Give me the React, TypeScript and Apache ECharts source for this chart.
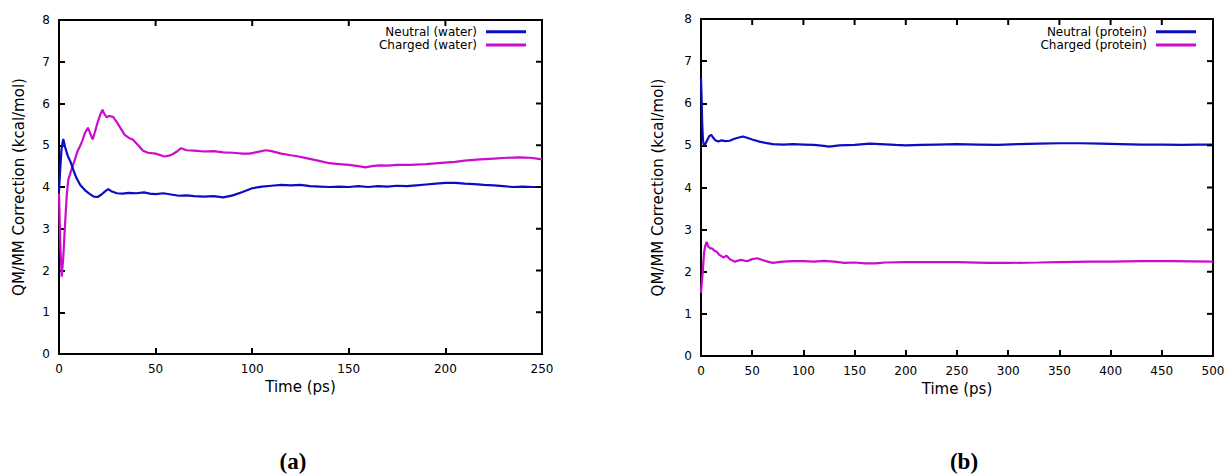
import React, { useEffect, useRef } from "react";
import * as echarts from "echarts";

// Panel (a): water
const waterTicksX = [0, 50, 100, 150, 200, 250];
const neutralWater: [number, number][] = [
  [0, 3.9], [0.6, 4.4], [1.3, 4.9], [2.2, 5.15], [3.2, 4.95], [4.5, 4.75], [6, 4.6], [7.5, 4.4], [9, 4.22],
  [11, 4.05], [13.5, 3.92], [16, 3.83], [18, 3.77], [20, 3.76], [22, 3.82], [24, 3.9], [25.5, 3.95], [27, 3.9],
  [30, 3.85], [33, 3.84], [36, 3.86], [40, 3.85], [44, 3.87], [47, 3.84], [50, 3.83], [54, 3.85], [58, 3.82],
  [62, 3.79], [66, 3.8], [70, 3.78], [75, 3.77], [80, 3.78], [85, 3.75], [90, 3.8], [95, 3.88], [100, 3.97],
  [105, 4.01], [110, 4.03], [115, 4.05], [120, 4.04], [125, 4.05], [130, 4.02], [135, 4.01], [140, 4.0],
  [145, 4.01], [150, 4.0], [155, 4.02], [160, 4.0], [165, 4.02], [170, 4.01], [175, 4.03], [180, 4.02],
  [185, 4.04], [190, 4.06], [195, 4.08], [200, 4.1], [205, 4.1], [210, 4.08], [215, 4.07], [220, 4.05],
  [225, 4.04], [230, 4.02], [235, 4.0], [240, 4.01], [245, 4.0], [250, 4.0],
];
const chargedWater: [number, number][] = [
  [0, 3.85], [0.7, 2.6], [1.4, 1.85], [2.2, 2.3], [3, 3.0], [4, 3.8], [4.8, 4.17], [6, 4.35], [7, 4.5],
  [8.2, 4.65], [9.5, 4.85], [10.8, 4.97], [12, 5.1], [13.5, 5.3], [15, 5.42], [16, 5.3], [17.4, 5.14],
  [18.5, 5.3], [20, 5.55], [21.5, 5.75], [22.5, 5.85], [23.5, 5.75], [24.6, 5.67], [26, 5.7], [28, 5.68],
  [30, 5.55], [32, 5.4], [34, 5.25], [36, 5.18], [38.3, 5.13], [41, 5.0], [43.5, 4.87], [46, 4.82], [50, 4.8],
  [54.6, 4.73], [57, 4.75], [59, 4.79], [61, 4.85], [63.2, 4.93], [66, 4.88], [70, 4.87], [75, 4.85],
  [80, 4.86], [85, 4.83], [90, 4.82], [95, 4.8], [98.5, 4.8], [103, 4.84], [107, 4.88], [110, 4.86],
  [115, 4.8], [120, 4.76], [124, 4.73], [128, 4.69], [134, 4.63], [140, 4.57], [145, 4.55], [150, 4.53],
  [155, 4.5], [158.6, 4.47], [162, 4.5], [166, 4.52], [170, 4.51], [175, 4.53], [182, 4.53], [190, 4.55],
  [198, 4.58], [205, 4.6], [210, 4.63], [218, 4.66], [225, 4.68], [232, 4.7], [238, 4.71], [244, 4.7],
  [250, 4.66],
];

// Panel (b): protein
const proteinTicksX = [0, 50, 100, 150, 200, 250, 300, 350, 400, 450, 500];
const neutralProtein: [number, number][] = [
  [0, 6.6], [0.5, 6.2], [1.2, 5.5], [2, 5.1], [3, 5.0], [4, 5.02], [6, 5.12], [8, 5.22], [10, 5.25],
  [12, 5.18], [14, 5.12], [17, 5.09], [20, 5.12], [24, 5.1], [28, 5.11], [32, 5.15], [36, 5.18], [41, 5.21],
  [45, 5.18], [50, 5.14], [57, 5.09], [63, 5.06], [70, 5.03], [80, 5.02], [90, 5.03], [100, 5.02],
  [110, 5.01], [120, 4.99], [125, 4.97], [135, 5.0], [150, 5.01], [165, 5.04], [175, 5.03], [190, 5.01],
  [200, 5.0], [215, 5.01], [230, 5.02], [250, 5.03], [270, 5.02], [290, 5.01], [310, 5.03], [330, 5.04],
  [350, 5.05], [370, 5.05], [390, 5.04], [410, 5.03], [430, 5.02], [450, 5.02], [470, 5.01], [485, 5.02],
  [500, 5.02],
];
const chargedProtein: [number, number][] = [
  [0, 1.5], [1, 1.8], [2, 2.1], [3, 2.45], [4, 2.6], [5.5, 2.71], [7, 2.6], [8.8, 2.56], [11, 2.55],
  [13, 2.5], [15, 2.48], [18, 2.4], [21.8, 2.34], [25, 2.38], [28, 2.3], [33, 2.24], [37, 2.27], [40, 2.28],
  [45, 2.25], [50, 2.3], [55, 2.32], [60, 2.28], [65, 2.24], [70, 2.21], [80, 2.24], [90, 2.25], [100, 2.25],
  [110, 2.24], [120, 2.26], [130, 2.24], [140, 2.21], [150, 2.22], [160, 2.2], [170, 2.2], [180, 2.22],
  [200, 2.23], [220, 2.23], [250, 2.23], [280, 2.21], [300, 2.21], [330, 2.22], [350, 2.23], [380, 2.24],
  [400, 2.24], [430, 2.25], [460, 2.25], [500, 2.24],
];

const yTicks = [0, 1, 2, 3, 4, 5, 6, 7, 8];

const BLUE = "#0c0cc4";
const MAGENTA = "#cc0ccc";
const FONT = "DejaVu Sans";
const TICK_LEN = 6;

export default function App() {
  const ref = useRef<HTMLDivElement>(null);

  useEffect(() => {
    if (!ref.current) return;
    const chart = echarts.init(ref.current, null, { renderer: "svg" });

    const label = () => ({ color: "#000", fontFamily: FONT, fontSize: 12, margin: 9 });
    const nameStyle = () => ({ color: "#000", fontFamily: FONT, fontSize: 15 });

    const xAxisOf = (grid: number, ticks: number[], gapName: number) => ({
      type: "value",
      gridIndex: grid,
      position: "bottom",
      min: ticks[0],
      max: ticks[ticks.length - 1],
      interval: ticks[1] - ticks[0],
      name: "Time (ps)",
      nameLocation: "middle",
      nameGap: gapName,
      nameTextStyle: nameStyle(),
      axisLine: { show: true, onZero: false, lineStyle: { color: "#000", width: 2 } },
      axisTick: { show: true, inside: true, length: TICK_LEN, lineStyle: { color: "#000", width: 2 } },
      axisLabel: label(),
      splitLine: { show: false },
    });
    const yAxisOf = (grid: number, gapName: number) => ({
      type: "value",
      gridIndex: grid,
      position: "left",
      min: yTicks[0],
      max: yTicks[yTicks.length - 1],
      interval: 1,
      name: "QM/MM Correction (kcal/mol)",
      nameLocation: "middle",
      nameGap: gapName,
      nameRotate: 90,
      nameTextStyle: nameStyle(),
      axisLine: { show: true, onZero: false, lineStyle: { color: "#000", width: 2 } },
      axisTick: { show: true, inside: true, length: TICK_LEN, lineStyle: { color: "#000", width: 2 } },
      axisLabel: label(),
      splitLine: { show: false },
    });

    const line = (name: string, data: [number, number][], color: string, idx: number) => ({
      type: "line",
      name,
      data,
      xAxisIndex: idx,
      yAxisIndex: idx,
      showSymbol: false,
      symbol: "none",
      color,
      lineStyle: { color, width: 2.2 },
      z: 3,
    });

    const tickStyle = { stroke: "#000", lineWidth: 2 };
    // mirrored x-axis ticks along the top edge, positioned through the axis scale
    const xTickSeries = (idx: number, ticks: number[]) => ({
      type: "custom",
      xAxisIndex: idx,
      yAxisIndex: idx,
      silent: true,
      z: 4,
      data: ticks.map((t) => [t, yTicks[yTicks.length - 1]]),
      renderItem: (_p: any, api: any) => {
        const v = api.value(0);
        const t = api.coord([v, yTicks[yTicks.length - 1]]);
        return { type: "line", shape: { x1: t[0], y1: t[1], x2: t[0], y2: t[1] + TICK_LEN }, style: tickStyle };
      },
    });
    // mirrored y-axis ticks along the right edge
    const yTickSeries = (idx: number, ticksX: number[]) => ({
      type: "custom",
      xAxisIndex: idx,
      yAxisIndex: idx,
      silent: true,
      z: 4,
      data: yTicks.map((v) => [ticksX[ticksX.length - 1], v]),
      renderItem: (_p: any, api: any) => {
        const v = api.value(1);
        const r = api.coord([ticksX[ticksX.length - 1], v]);
        return { type: "line", shape: { x1: r[0], y1: r[1], x2: r[0] - TICK_LEN, y2: r[1] }, style: tickStyle };
      },
    });

    const legendBase = () => ({
      orient: "vertical",
      align: "right",
      icon: "rect",
      itemWidth: 40,
      itemHeight: 3,
      itemGap: 1.3,
      padding: 0,
      textStyle: { color: "#000", fontFamily: FONT, fontSize: 12, lineHeight: 12, padding: [0, 4, 0, 0] },
    });

    const label2 = (text: string, x: number) => ({
      type: "text",
      x,
      y: 461,
      style: {
        text,
        fontFamily: "Liberation Serif",
        fontWeight: "bold",
        fontSize: 23,
        fill: "#000",
        align: "center",
        verticalAlign: "middle",
      },
    });

    const gridBox = { show: true, borderColor: "#000", borderWidth: 2 };

    chart.setOption({
      animation: false,
      grid: [
        { ...gridBox, left: 59, top: 20, width: 483, height: 334 },
        { ...gridBox, left: 701, top: 19, width: 512, height: 337 },
      ],
      xAxis: [xAxisOf(0, waterTicksX, 25), xAxisOf(1, proteinTicksX, 24)],
      yAxis: [yAxisOf(0, 33), yAxisOf(1, 36)],
      legend: [
        { ...legendBase(), data: ["Neutral (water)", "Charged (water)"], right: 703, top: 25.7 },
        { ...legendBase(), data: ["Neutral (protein)", "Charged (protein)"], right: 33, top: 25.7 },
      ],
      series: [
        xTickSeries(0, waterTicksX),
        yTickSeries(0, waterTicksX),
        xTickSeries(1, proteinTicksX),
        yTickSeries(1, proteinTicksX),
        line("Charged (water)", chargedWater, MAGENTA, 0),
        line("Neutral (water)", neutralWater, BLUE, 0),
        line("Neutral (protein)", neutralProtein, BLUE, 1),
        line("Charged (protein)", chargedProtein, MAGENTA, 1),
      ],
      graphic: [label2("(a)", 293), label2("(b)", 964)],
    });

    return () => chart.dispose();
  }, []);

  return (
    <div
      ref={ref}
      style={{ position: "fixed", left: 0, top: 0, width: 1229, height: 476, background: "#fff" }}
    />
  );
}
